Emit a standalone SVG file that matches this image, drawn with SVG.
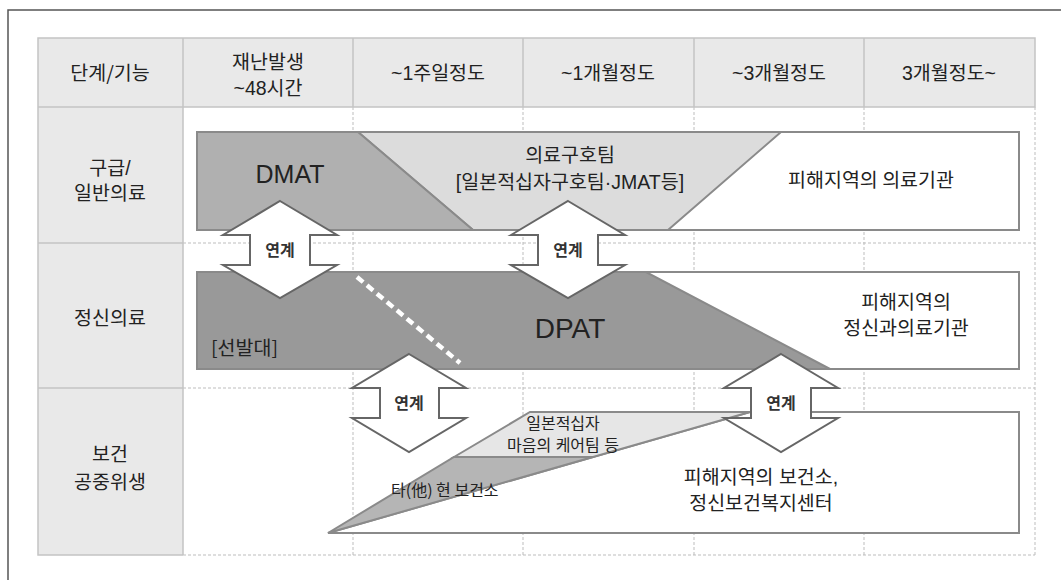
<svg xmlns="http://www.w3.org/2000/svg" width="1061" height="580" viewBox="0 0 1061 580">
<style>
.t{font-family:"Liberation Sans","Noto Sans CJK KR",sans-serif;font-size:19.5px;fill:#222;text-anchor:middle}
.k{font-family:"Noto Sans CJK KR",sans-serif;font-size:19.5px;fill:#222;text-anchor:middle}
.ks{font-family:"Noto Sans CJK KR",sans-serif;font-size:19.5px;fill:#222;text-anchor:start}
.s{font-family:"Liberation Sans","Noto Sans CJK KR",sans-serif;font-size:16px;fill:#222;text-anchor:middle}
.ss{font-family:"Noto Sans CJK KR",sans-serif;font-size:16px;fill:#222;text-anchor:start}
.b{font-family:"Noto Sans CJK KR",sans-serif;font-size:16px;font-weight:bold;fill:#333;text-anchor:middle}
.big{font-family:"Liberation Sans",sans-serif;fill:#222;text-anchor:middle}
.grid{stroke:#bdbdbd;stroke-width:1;stroke-dasharray:3 2;fill:none}
.solid{stroke:#c4c4c4;stroke-width:1.5;fill:none}
.box{stroke:#8a8a8a;stroke-width:2}
.arr{fill:#fff;stroke:#666;stroke-width:2;stroke-linejoin:miter}
</style>
<rect width="1061" height="580" fill="#fff"/>
<path d="M8 580V10H1061" fill="none" stroke="#555" stroke-width="1.5"/>

<g id="table">
<rect x="38" y="38" width="997" height="69" fill="#e9e9e9"/>
<rect x="38" y="107" width="145" height="448" fill="#e9e9e9"/>
<path class="grid" d="M353 107V555M523 107V555M694 107V555M864 107V555M1035 107V555M183 243H1035M183 388H1035M183 555H1035"/>
<path class="solid" d="M38 38H1035V107H38ZM183 38V555M353 38V107M523 38V107M694 38V107M864 38V107M38 107V555H183M38 243H183M38 388H183"/>
<text class="k" x="110" y="80">단계/기능</text>
<text class="t" x="268" y="69"><tspan x="268">재난발생</tspan><tspan x="268" dy="26">~48시간</tspan></text>
<text class="t" x="438" y="80">~1주일정도</text>
<text class="t" x="608" y="80">~1개월정도</text>
<text class="t" x="779" y="80">~3개월정도</text>
<text class="t" x="949" y="80">3개월정도~</text>
<text class="t" x="110" y="175"><tspan x="110">구급/</tspan><tspan x="110" dy="25">일반의료</tspan></text>
<text class="k" x="110" y="325">정신의료</text>
<text class="t" x="110" y="461"><tspan x="110">보건</tspan><tspan x="110" dy="28">공중위생</tspan></text>
</g>

<g id="row-emergency">
<rect class="box" x="197" y="132" width="822" height="98" fill="#fff"/>
<polygon points="358,132 781,132 668,230 473,230" fill="#dcdcdc" stroke="#8a8a8a" stroke-width="2"/>
<polygon points="197,132 358,132 473,230 197,230" fill="#b0b0b0" stroke="#8a8a8a" stroke-width="2"/>
<text class="big" x="290" y="183" font-size="25">DMAT</text>
<text class="t" x="570" y="162"><tspan x="570">의료구호팀</tspan><tspan x="570" dy="27">[일본적십자구호팀·JMAT등]</tspan></text>
<text class="k" x="871" y="187">피해지역의 의료기관</text>
</g>

<g id="row-psych">
<rect class="box" x="197" y="272" width="822" height="97" fill="#fff"/>
<polygon points="197,272 646,272 830,369 197,369" fill="#999" stroke="#8a8a8a" stroke-width="2"/>
<line x1="357" y1="277" x2="460" y2="363" stroke="#fff" stroke-width="4.5" stroke-dasharray="8 5"/>
<text class="big" x="570" y="338" font-size="28">DPAT</text>
<text class="ks" x="211" y="355">[선발대]</text>
<text class="t" x="906" y="309"><tspan x="906">피해지역의</tspan><tspan x="906" dy="26">정신과의료기관</tspan></text>
</g>

<g id="row-health">
<polygon points="328,533 750,412 1019,412 1019,533" fill="#fff" stroke="#8a8a8a" stroke-width="2"/>
<polygon points="454,457 530,412 750,412 593,457" fill="#e6e6e6" stroke="#8a8a8a" stroke-width="2"/>
<polygon points="328,533 454,457 593,457" fill="#b5b5b5" stroke="#8a8a8a" stroke-width="2"/>
<text class="s" x="563" y="429"><tspan x="563">일본적십자</tspan><tspan x="563" dy="22">마음의 케어팀 등</tspan></text>
<text class="ss" x="391" y="496">타(他) 현 보건소</text>
<text class="t" x="761" y="484"><tspan x="761">피해지역의 보건소,</tspan><tspan x="761" dy="26">정신보건복지센터</tspan></text>
</g>

<g id="connectors">
<path class="arr" d="M280 201L337 235H310V265H337L280 298L223 265H250V235H223Z"/>
<text class="b" x="280" y="256">연계</text>
<path class="arr" d="M568 201L625 235H598V265H625L568 298L511 265H538V235H511Z"/>
<text class="b" x="568" y="256">연계</text>
<path class="arr" d="M409 354L466 388H439V418H466L409 452L352 418H380V388H352Z"/>
<text class="b" x="409" y="409">연계</text>
<path class="arr" d="M781 354L838 388H811V418H838L781 452L724 418H751V388H724Z"/>
<text class="b" x="781" y="409">연계</text>
</g>
</svg>
